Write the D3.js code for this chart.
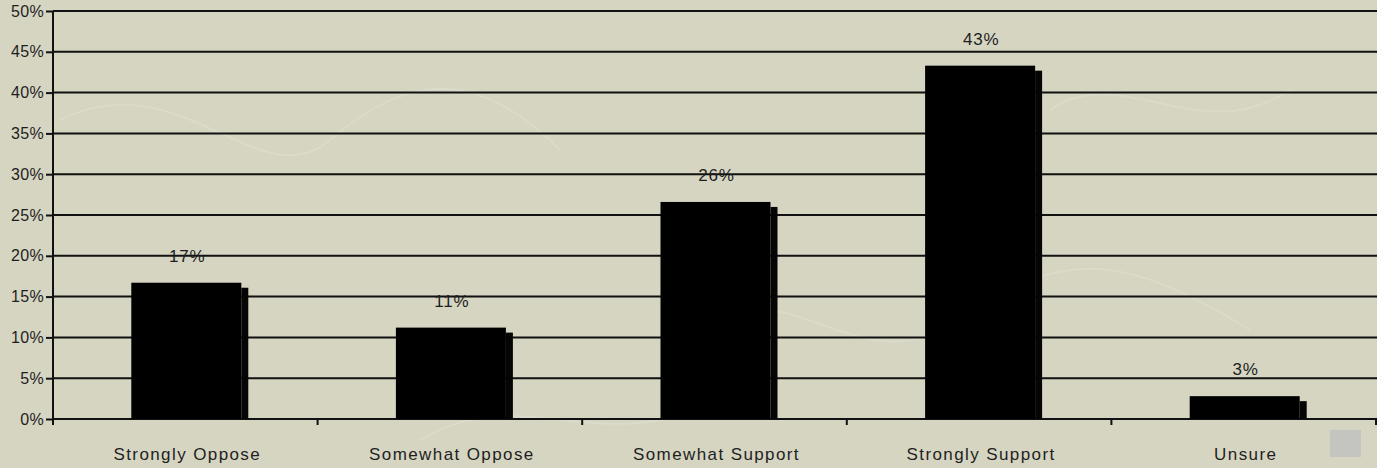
<!DOCTYPE html>
<html>
<head>
<meta charset="utf-8">
<script src="https://cdn.jsdelivr.net/npm/d3@7"></script>
<style>
  body { margin: 0; background: #d6d5c2; }
  svg { display: block; }
  text { font-family: "Liberation Sans", Arial, sans-serif; fill: #1e1e1e; }
</style>
</head>
<body>
<div id="container"></div>
<script>
// data
var categories = ["Strongly Oppose", "Somewhat Oppose", "Somewhat Support", "Strongly Support", "Unsure"];
var values = [16.7, 11.2, 26.6, 43.3, 2.8];
var valueLabels = ["17%", "11%", "26%", "43%", "3%"];
var yTicks = [0, 5, 10, 15, 20, 25, 30, 35, 40, 45, 50];

var W = 1377, H = 468;
var svg = d3.select("#container").append("svg")
  .attr("width", W)
  .attr("height", H);

svg.append("rect").attr("width", W).attr("height", H).attr("fill", "#d6d5c2");

// faint background texture
var tex = svg.append("g").attr("fill", "none").attr("stroke", "#e2e1d1").attr("stroke-width", 2).attr("opacity", 0.5);
tex.append("path").attr("d", "M60,120 C180,60 260,200 330,140 S470,60 560,150");
tex.append("path").attr("d", "M700,330 C780,260 860,390 960,320 S1120,250 1250,330");
tex.append("path").attr("d", "M420,440 C520,380 600,460 720,400");
tex.append("path").attr("d", "M1050,110 C1120,60 1200,150 1290,90");

var x = d3.scaleBand().domain(categories).range([53, 1376]).padding(0);
var y = d3.scaleLinear().domain([0, 50]).range([419, 11]);

// gridlines
svg.append("g")
  .selectAll("line")
  .data(yTicks)
  .enter()
  .append("line")
  .attr("x1", 53)
  .attr("x2", W)
  .attr("y1", (d) => y(d))
  .attr("y2", (d) => y(d))
  .attr("stroke", "#111")
  .attr("stroke-width", 2);

// y axis
var yAxis = svg.append("g")
  .attr("transform", "translate(53,0)")
  .call(d3.axisLeft(y).tickValues(yTicks).tickSize(7).tickPadding(2).tickFormat((d) => d + "%"));
yAxis.select(".domain").remove();
yAxis.selectAll(".tick line").attr("stroke", "#111").attr("stroke-width", 2);
yAxis.selectAll(".tick text")
  .style("font-size", "16px")
  .style("font-family", "'Liberation Sans', Arial, sans-serif")
  .style("letter-spacing", "0.3px")
  .attr("fill", "#1e1e1e");
svg.append("line")
  .attr("x1", 53).attr("x2", 53)
  .attr("y1", y(50)).attr("y2", 425)
  .attr("stroke", "#111").attr("stroke-width", 2);

// x ticks between categories
var bounds = categories.map((c) => x(c)).concat([x.range()[1]]);
svg.append("g")
  .selectAll("line")
  .data(bounds.slice(1))
  .enter()
  .append("line")
  .attr("x1", (d) => d)
  .attr("x2", (d) => d)
  .attr("y1", 419)
  .attr("y2", 425)
  .attr("stroke", "#111")
  .attr("stroke-width", 2);

// bars: main block plus a small stepped edge on the right
var barW = 110;
var bars = svg.append("g").selectAll("g")
  .data(values)
  .enter()
  .append("g");

bars.append("rect")
  .attr("x", (d, i) => x(categories[i]) + x.bandwidth() / 2 - barW / 2 + 1)
  .attr("y", (d) => y(d))
  .attr("width", barW)
  .attr("height", (d) => y(0) - y(d))
  .attr("fill", "#000");

bars.append("rect")
  .attr("x", (d, i) => x(categories[i]) + x.bandwidth() / 2 + barW / 2 + 1)
  .attr("y", (d) => y(d) + 5)
  .attr("width", 7)
  .attr("height", (d) => y(0) - y(d) - 5)
  .attr("fill", "#050505");

// value labels
svg.append("g").selectAll("text")
  .data(values)
  .enter()
  .append("text")
  .attr("x", (d, i) => x(categories[i]) + x.bandwidth() / 2 + 2)
  .attr("y", (d) => y(d) - 21)
  .attr("text-anchor", "middle")
  .style("font-size", "17px")
  .style("letter-spacing", "0.8px")
  .text((d, i) => valueLabels[i]);

// category labels
svg.append("g").selectAll("text")
  .data(categories)
  .enter()
  .append("text")
  .attr("x", (d) => x(d) + x.bandwidth() / 2 + 2)
  .attr("y", 460)
  .attr("text-anchor", "middle")
  .style("font-size", "17px")
  .style("letter-spacing", "1.4px")
  .text((d) => d);

// small grey box bottom right
svg.append("rect")
  .attr("x", 1330).attr("y", 430)
  .attr("width", 31).attr("height", 27)
  .attr("fill", "#c4c4c1");
</script>
</body>
</html>
